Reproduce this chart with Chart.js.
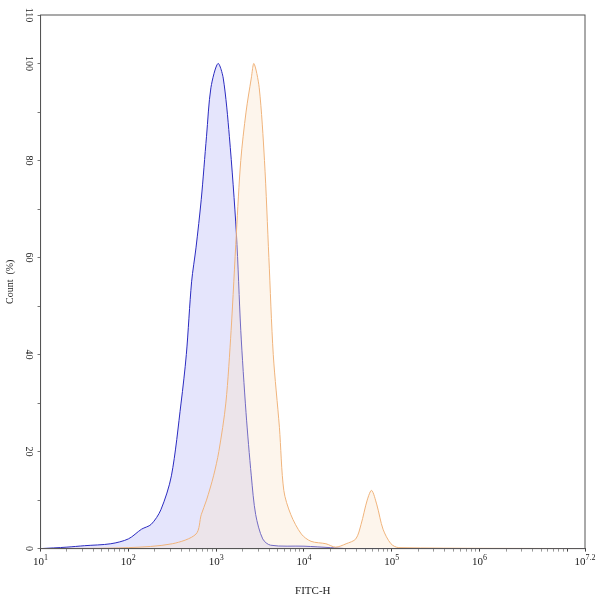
<!DOCTYPE html>
<html>
<head>
<script src="https://cdn.jsdelivr.net/npm/chart.js@4"></script>
<style>body{margin:0;background:#fff}#wrap{width:600px;height:602px}</style>
</head>
<body>
<div id="wrap"><canvas id="c"></canvas></div>
<script>
// log10 of FITC-H and count (%)
const blueLog = [1, 1.3, 1.5, 1.8, 2, 2.15, 2.26, 2.37, 2.49, 2.6, 2.66, 2.72, 2.77, 2.83, 2.89, 2.94, 3.02, 3.08, 3.15, 3.23, 3.28, 3.34, 3.4, 3.45, 3.53, 3.62, 4, 4.3, 4.5, 7.2];
const blueCount = [0, 0.3, 0.6, 1, 2, 4, 5, 8, 15, 30, 40, 55, 62, 72, 85, 95, 100, 97, 85, 65, 45, 28, 15, 7, 2, 0.7, 0.5, 0.2, 0, 0];
const orangeLog = [1, 2, 2.5, 2.77, 2.83, 2.89, 2.97, 3.03, 3.11, 3.17, 3.23, 3.28, 3.34, 3.4, 3.43, 3.49, 3.55, 3.6, 3.65, 3.72, 3.77, 3.85, 3.97, 4.08, 4.25, 4.36, 4.48, 4.59, 4.65, 4.72, 4.77, 4.83, 4.9, 4.99, 5.08, 7.2];
const orangeCount = [0, 0.2, 1, 3, 7, 10, 15, 20, 30, 45, 65, 80, 90, 97, 100, 95, 80, 60, 40, 25, 12, 7, 3, 1.5, 1, 0.3, 1, 2, 5, 10, 12, 9, 4, 1, 0.2, 0];
const xTickExp = [1, 2, 3, 4, 5, 6, 7.2];
const yTicks = [0, 20, 40, 60, 80, 100, 110];

const toPts = (lg, cnt) => lg.map((l, i) => ({ x: Math.pow(10, l), y: cnt[i] }));
const FONT = "'Liberation Serif', 'DejaVu Serif', serif";

const labelPlugin = {
  id: "labels",
  afterDraw(chart) {
    const ctx = chart.ctx, xs = chart.scales.x, ys = chart.scales.y;
    ctx.save();
    ctx.fillStyle = "#222";
    xTickExp.forEach((e) => {
      const px = xs.getPixelForValue(Math.pow(10, e));
      const base = ys.bottom + 16;
      ctx.font = "11px " + FONT;
      const w = ctx.measureText("10").width;
      ctx.font = "8px " + FONT;
      const sup = String(e);
      const sw = ctx.measureText(sup).width;
      const start = px - (w + sw) / 2;
      ctx.font = "11px " + FONT;
      ctx.textAlign = "left";
      ctx.textBaseline = "alphabetic";
      ctx.fillText("10", start, base);
      ctx.font = "8px " + FONT;
      ctx.fillText(sup, start + w, base - 5);
    });
    ctx.font = "10px " + FONT;
    ctx.textAlign = "center";
    ctx.textBaseline = "middle";
    yTicks.forEach((v) => {
      const py = ys.getPixelForValue(v);
      ctx.save();
      ctx.translate(xs.left - 12, py);
      ctx.rotate(Math.PI / 2);
      ctx.fillText(String(v), 0, 0);
      ctx.restore();
    });
    ctx.strokeStyle = "#555";
    ctx.lineWidth = 1;
    ctx.strokeRect(xs.left, ys.top, xs.right - xs.left, ys.bottom - ys.top);
    ctx.restore();
  }
};

new Chart(document.getElementById("c"), {
  type: "line",
  data: {
    datasets: [
      { data: toPts(orangeLog, orangeCount), borderColor: "#f0b47c", backgroundColor: "rgba(250,225,200,0.35)", fill: "origin", borderWidth: 1, pointRadius: 0, tension: 0.3 },
      { data: toPts(blueLog, blueCount), borderColor: "#2b2bc0", backgroundColor: "rgba(170,170,245,0.3)", fill: "origin", borderWidth: 1, pointRadius: 0, tension: 0.3 }
    ]
  },
  plugins: [labelPlugin],
  options: {
    responsive: true,
    maintainAspectRatio: false,
    animation: false,
    layout: { padding: { left: 0, right: 15, top: 15, bottom: 0 } },
    plugins: { legend: { display: false }, tooltip: { enabled: false } },
    scales: {
      x: {
        type: "logarithmic",
        min: 10,
        max: Math.pow(10, 7.2),
        afterBuildTicks(s) {
          const t = [];
          for (let d = 1; d <= 7; d++) for (let m = 1; m <= 9; m++) {
            const v = m * Math.pow(10, d);
            if (v <= s.max) t.push({ value: v, major: m === 1 });
          }
          t.push({ value: s.max, major: true });
          s.ticks = t;
        },
        grid: { drawOnChartArea: false, color: "#555", tickLength: 3, tickColor: (c) => (c.tick && c.tick.major ? "#444" : "#999") },
        border: { color: "#555" },
        ticks: { autoSkip: false, maxRotation: 0, callback: () => "", font: { size: 11 } },
        title: { display: true, text: "FITC-H", font: { family: FONT, size: 11 }, color: "#222", padding: { top: 14 } }
      },
      y: {
        min: 0,
        max: 110,
        afterBuildTicks(s) {
          const t = [];
          for (let v = 0; v <= 110; v += 10) t.push({ value: v });
          s.ticks = t;
        },
        grid: { drawOnChartArea: false, color: "#777", tickLength: 3 },
        border: { color: "#555" },
        ticks: { callback: () => "  ", padding: 8, font: { size: 10 } },
        title: { display: true, text: "Count  (%)", font: { family: FONT, size: 10 }, color: "#222", padding: { bottom: 0 } }
      }
    }
  }
});
</script>
</body>
</html>
